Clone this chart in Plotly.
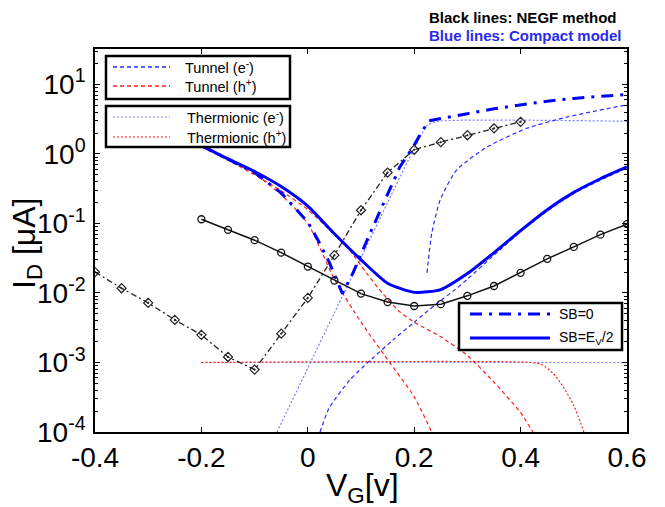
import plotly.graph_objects as go

# ---- NEGF (black) ---------------------------------------------------------
vg_negf_sb_half = [-0.2, -0.15, -0.1, -0.05, 0.0, 0.05, 0.1, 0.15, 0.2,
                   0.25, 0.3, 0.35, 0.4, 0.45, 0.5, 0.55, 0.6]
id_negf_sb_half = [0.115, 0.081, 0.0575, 0.038, 0.024, 0.0151, 0.0098, 0.0074,
                   0.0065, 0.0069, 0.0091, 0.0126, 0.0195, 0.031, 0.046, 0.069, 0.098]

vg_negf_sb0 = [-0.4, -0.35, -0.3, -0.25, -0.2, -0.15, -0.1, -0.05, 0.0,
               0.05, 0.1, 0.15, 0.2, 0.25, 0.3, 0.35, 0.4]
id_negf_sb0 = [0.02, 0.0117, 0.0072, 0.0041, 0.0025, 0.0012, 0.00079, 0.0026,
               0.0085, 0.035, 0.155, 0.54, 1.15, 1.48, 1.86, 2.34, 2.9]

# ---- Compact model totals (thick blue) -----------------------------------
vg_cm_sb0 = [-0.2, -0.15, -0.1, -0.05, 0.0, 0.02, 0.04, 0.065, 0.085, 0.117,
             0.145, 0.173, 0.198, 0.215, 0.228, 0.25, 0.3, 0.35, 0.4, 0.45,
             0.5, 0.55, 0.6]
id_cm_sb0 = [1.32, 0.85, 0.54, 0.275, 0.105, 0.056, 0.028, 0.0098, 0.0195, 0.072,
             0.22, 0.65, 1.26, 2.14, 3.0, 3.24, 3.8, 4.47, 5.1, 5.75, 6.3, 6.8, 7.2]

vg_cm_sb_half = [-0.2, -0.15, -0.1, -0.05, 0.0, 0.05, 0.1, 0.15, 0.2, 0.25,
                 0.3, 0.35, 0.4, 0.45, 0.5, 0.55, 0.6]
id_cm_sb_half = [1.32, 0.85, 0.56, 0.34, 0.178, 0.071, 0.030, 0.0138, 0.0102,
                 0.0112, 0.019, 0.038, 0.079, 0.158, 0.28, 0.44, 0.65]

# ---- Compact model components (thin) -------------------------------------
vg_tun_e_a = [0.224, 0.233, 0.249, 0.28, 0.337, 0.412, 0.487, 0.6]
id_tun_e_a = [0.0195, 0.072, 0.22, 0.59, 1.26, 2.34, 3.39, 5.1]

vg_tun_e_b = [0.023, 0.04, 0.079, 0.12, 0.16, 0.2, 0.24, 0.28, 0.3, 0.35,
              0.4, 0.45, 0.5, 0.55, 0.6]
id_tun_e_b = [1e-4, 2.2e-4, 5.6e-4, 1.12e-3, 2.1e-3, 3.8e-3, 6.8e-3, 0.0117,
              0.0158, 0.035, 0.076, 0.151, 0.27, 0.42, 0.63]

vg_tun_h_a = [-0.2, -0.15, -0.1, -0.05, 0.0, 0.05, 0.1, 0.15, 0.2, 0.233]
id_tun_h_a = [1.29, 0.83, 0.52, 0.26, 0.1, 0.0158, 0.0038, 0.0011, 3.2e-4, 1e-4]

vg_tun_h_b = [-0.2, -0.15, -0.1, -0.05, 0.0, 0.05, 0.08, 0.11, 0.14, 0.17,
              0.2, 0.25, 0.3, 0.35, 0.4, 0.423]
id_tun_h_b = [1.26, 0.81, 0.5, 0.295, 0.158, 0.069, 0.04, 0.0195, 0.01, 0.0056,
              0.0038, 0.00234, 0.00126, 5.2e-4, 1.9e-4, 1e-4]

vg_th_e_a = [-0.058, 0.0, 0.05, 0.1, 0.15, 0.2, 0.225, 0.245, 0.6]
id_th_e_a = [1.0e-4, 8.3e-4, 5.2e-3, 0.032, 0.2, 1.2, 2.6, 2.95, 2.95]

vg_th_e_b = [-0.2, 0.6]
id_th_e_b = [1e-3, 1e-3]

vg_th_h = [-0.2, 0.42, 0.44, 0.46, 0.48, 0.5, 0.519]
id_th_h = [1e-3, 1e-3, 9.3e-4, 7.1e-4, 4.5e-4, 2.4e-4, 1e-4]

# ---- axis ticks ----------------------------------------------------------
x_ticks = [-0.4, -0.2, 0.0, 0.2, 0.4, 0.6]
x_ticktext = ["-0.4", "-0.2", "0", "0.2", "0.4", "0.6"]
y_exponents = [-4, -3, -2, -1, 0, 1]

FONT = "Liberation Sans, Arial, Helvetica, sans-serif"
BLUE = "#0000ff"
BLUE_THIN = "#2a2aff"
BLUE_LIGHT = "#7a7aff"
RED = "#ff2020"

DASH_TUNNEL = "4px,3px"
DASH_THERM = "2px,2px"
DASH_SB0 = "12px,7px,3px,7px"

fig = go.Figure()


def add_line(x, y, color, width, dash, shape="spline", name=""):
    fig.add_trace(go.Scatter(
        x=x, y=y, mode="lines", name=name, showlegend=False,
        line=dict(color=color, width=width, dash=dash, shape=shape,
                  smoothing=0.6 if shape == "spline" else None),
        hoverinfo="skip"))


# thin component curves
add_line(vg_th_e_b, id_th_e_b, BLUE_LIGHT, 1.2, DASH_THERM, "linear", "Thermionic (e-)")
add_line(vg_th_h, id_th_h, RED, 1.2, DASH_THERM, "spline", "Thermionic (h+)")
add_line(vg_th_e_a, id_th_e_a, BLUE_LIGHT, 1.2, DASH_THERM, "spline", "Thermionic (e-)")
add_line(vg_tun_h_a, id_tun_h_a, RED, 1.2, DASH_TUNNEL, "spline", "Tunnel (h+)")
add_line(vg_tun_h_b, id_tun_h_b, RED, 1.2, DASH_TUNNEL, "spline", "Tunnel (h+)")
add_line(vg_tun_e_b, id_tun_e_b, BLUE_THIN, 1.2, DASH_TUNNEL, "spline", "Tunnel (e-)")
add_line(vg_tun_e_a, id_tun_e_a, BLUE_THIN, 1.2, DASH_TUNNEL, "spline", "Tunnel (e-)")

# compact model totals
add_line(vg_cm_sb_half, id_cm_sb_half, BLUE, 3, "solid", "spline", "SB=Ev/2")
add_line(vg_cm_sb0, id_cm_sb0, BLUE, 3, DASH_SB0, "linear", "SB=0")

# NEGF results
fig.add_trace(go.Scatter(
    x=vg_negf_sb0, y=id_negf_sb0, mode="lines+markers", showlegend=False,
    line=dict(color="#222222", width=1.3, dash="6px,3px,2px,3px"),
    marker=dict(symbol="diamond-open-dot", size=7, color="#222222",
                line=dict(width=1.2, color="#222222")),
    hoverinfo="skip"))
fig.add_trace(go.Scatter(
    x=vg_negf_sb_half, y=id_negf_sb_half, mode="lines+markers", showlegend=False,
    line=dict(color="#111111", width=1.5),
    marker=dict(symbol="circle-open", size=7, color="#111111",
                line=dict(width=1.3, color="#111111")),
    hoverinfo="skip"))

# plot area in pixels: x 95..627, y 49..432
L, R, T, B = 95, 627, 49, 432


def px(xp):
    return (xp - L) / (R - L)


def py(yp):
    return (B - yp) / (B - T)


shapes = []
annotations = []


def legend_box(x0, y0, x1, y1):
    shapes.append(dict(type="rect", xref="paper", yref="paper",
                       x0=px(x0), x1=px(x1), y0=py(y0), y1=py(y1),
                       line=dict(color="black", width=2.5), fillcolor="white",
                       layer="above"))


def legend_entry(x0, x1, y, color, width, dash, text, tx, size=14.5):
    shapes.append(dict(type="line", xref="paper", yref="paper",
                       x0=px(x0), x1=px(x1), y0=py(y), y1=py(y),
                       line=dict(color=color, width=width, dash=dash),
                       layer="above"))
    annotations.append(dict(xref="paper", yref="paper", x=px(tx), y=py(y),
                            text=text, showarrow=False, xanchor="left",
                            yanchor="middle",
                            font=dict(family=FONT, size=size, color="black")))


legend_box(106, 56, 290, 99)
legend_entry(113, 170, 67, BLUE_THIN, 1.5, DASH_TUNNEL, "Tunnel (e<sup>-</sup>)", 183)
legend_entry(113, 170, 86, RED, 1.5, DASH_TUNNEL, "Tunnel (h<sup>+</sup>)", 183)
legend_box(106, 106, 290, 147)
legend_entry(113, 170, 117, BLUE_LIGHT, 1.2, DASH_THERM, "Thermionic (e<sup>-</sup>)", 185)
legend_entry(113, 170, 137, RED, 1.2, DASH_THERM, "Thermionic (h<sup>+</sup>)", 185)

legend_box(459, 303, 622, 350)
legend_entry(470, 550, 314, BLUE, 3, DASH_SB0, "SB=0", 557, 14)
legend_entry(470, 550, 338, BLUE, 3, "solid", "SB=E<sub>V</sub>/2", 557, 14)

annotations.append(dict(xref="paper", yref="paper", x=px(427), y=py(18),
                        text="<b>Black lines: NEGF method</b>", showarrow=False,
                        xanchor="left", yanchor="middle",
                        font=dict(family=FONT, size=15, color="black")))
annotations.append(dict(xref="paper", yref="paper", x=px(427), y=py(35),
                        text="<b>Blue lines: Compact model</b>", showarrow=False,
                        xanchor="left", yanchor="middle",
                        font=dict(family=FONT, size=15, color="#2a2aee")))

# axis titles
annotations.append(dict(xref="paper", yref="paper", x=px(26), y=py(243),
                        text="I<sub>D</sub> [μA]", showarrow=False, textangle=-90,
                        xanchor="center", yanchor="middle",
                        font=dict(family=FONT, size=32, color="black")))
annotations.append(dict(xref="paper", yref="paper", x=px(362), y=py(487),
                        text="V<sub>G</sub>[v]", showarrow=False,
                        xanchor="center", yanchor="middle",
                        font=dict(family=FONT, size=32, color="black")))

y_minor = [m * 10.0 ** e for e in range(-4, 1) for m in range(2, 10)]
y_minor += [m * 10.0 for m in (2, 3)]

fig.update_layout(
    width=665, height=507,
    margin=dict(l=L, r=665 - R, t=T, b=507 - B, pad=0),
    paper_bgcolor="white", plot_bgcolor="white",
    font=dict(family=FONT, size=22, color="black"),
    shapes=shapes, annotations=annotations,
    xaxis=dict(range=[-0.4, 0.6], tickvals=x_ticks, ticktext=x_ticktext,
               ticks="inside", ticklen=5, tickwidth=1.2, tickcolor="black",
               showline=True, linecolor="black", linewidth=1.6, mirror="ticks",
               showgrid=False, zeroline=False,
               tickfont=dict(family=FONT, size=28, color="black")),
    yaxis=dict(type="log", range=[-4, 1.51],
               tickvals=[10.0 ** e for e in y_exponents],
               ticktext=["10<sup>%d</sup>" % e for e in y_exponents],
               ticks="inside", ticklen=5, tickwidth=1.2, tickcolor="black",
               ticklabelstandoff=2,
               minor=dict(tickvals=y_minor, ticks="inside", ticklen=3,
                          tickcolor="black", tickwidth=1, showgrid=False),
               showline=True, linecolor="black", linewidth=1.6, mirror="ticks",
               showgrid=False, zeroline=False,
               tickfont=dict(family=FONT, size=28, color="black")),
)

fig.write_html("out.html")
